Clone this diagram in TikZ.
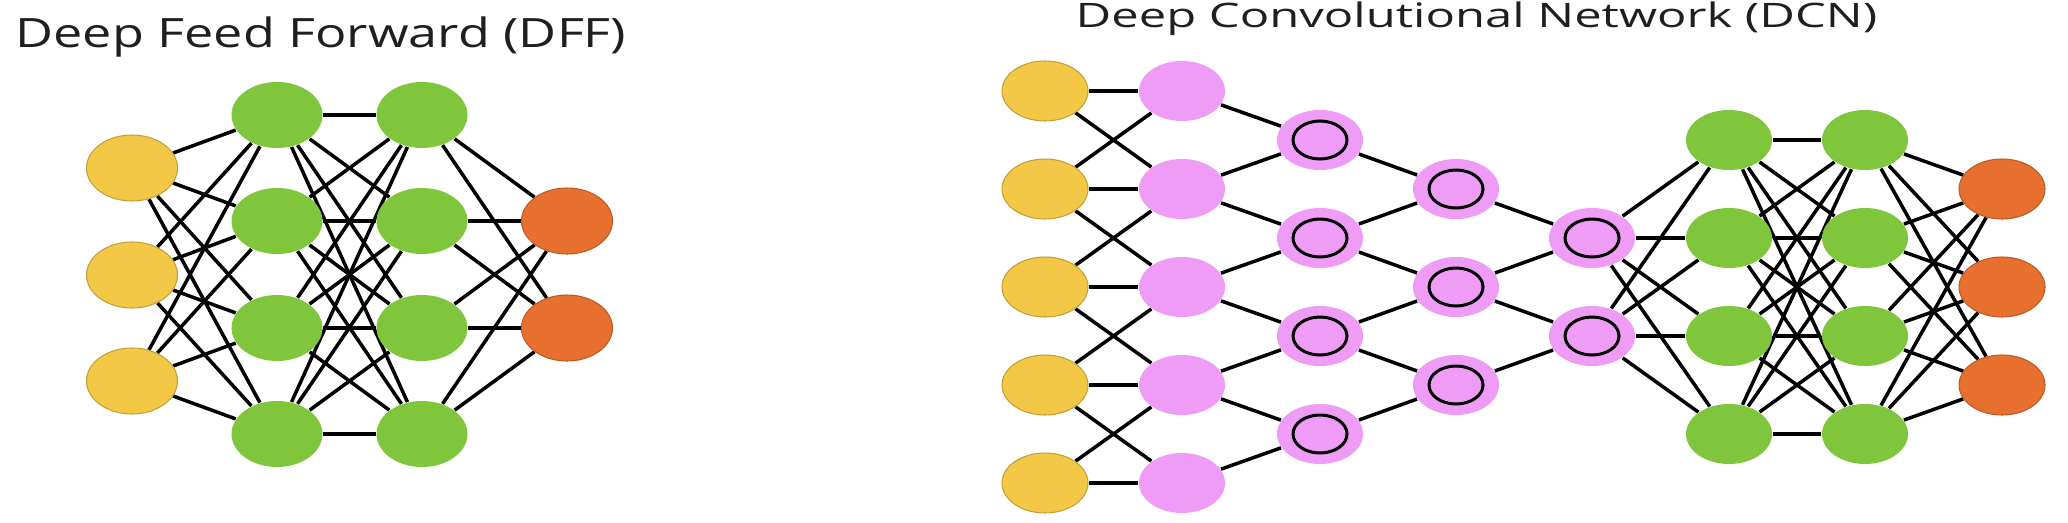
\documentclass[tikz,border=0pt]{standalone}
\usepackage{fontspec}
\setmainfont{Open Sans}
\usetikzlibrary{shapes.geometric,backgrounds}
\definecolor{inyellow}{HTML}{F3C846}
\definecolor{hidgreen}{HTML}{7FC63C}
\definecolor{outorange}{HTML}{E8702E}
\definecolor{convpink}{HTML}{EE9CF5}

\begin{document}
\begin{tikzpicture}[x=0.1mm,y=-0.1mm,
  big/.style={ellipse,inner sep=0pt,minimum width=9.1mm,minimum height=6.6mm},
  small/.style={ellipse,inner sep=0pt,minimum width=8.6mm,minimum height=6mm},
  inp/.style={fill=inyellow,draw=inyellow!80!black,line width=0.3pt},
  hid/.style={fill=hidgreen},
  outp/.style={fill=outorange,draw=outorange!80!black,line width=0.3pt},
  conv/.style={fill=convpink},
  pool/.style={fill=convpink,path picture={\draw[line width=0.3mm] (path picture bounding box.center) ellipse (2.7mm and 1.9mm);}},
  link/.style={line width=0.35mm},
  heading/.style={anchor=base west,inner sep=0pt,text=black!88}]
\useasboundingbox (0,0) rectangle (2068,522);

% Deep Feed Forward
\node[heading,font=\fontsize{11.5}{14}\selectfont] (dff) at (15,47) {\scalebox{1.29}[1]{Deep Feed Forward (DFF)}};
\foreach \y [count=\i] in {168,275,381} \node[big,inp] (in\i) at (132,\y) {};
\foreach \y [count=\i] in {115,221,328,434} {
  \node[big,hid] (ha\i) at (277,\y) {};
  \node[big,hid] (hb\i) at (422,\y) {};
}
\foreach \y [count=\i] in {221,328} \node[big,outp] (out\i) at (567,\y) {};

\begin{scope}[on background layer]
\foreach \i in {1,...,3} \foreach \j in {1,...,4} \draw[link] (in\i) -- (ha\j);
\foreach \i in {1,...,4} \foreach \j in {1,...,4} \draw[link] (ha\i) -- (hb\j);
\foreach \i in {1,...,4} \foreach \j in {1,2} \draw[link] (hb\i) -- (out\j);
\end{scope}

% Deep Convolutional Network
\node[heading,font=\fontsize{9.6}{12}\selectfont] (dcn) at (1075,27) {\scalebox{1.45}[1]{Deep Convolutional Network (DCN)}};
\foreach \y [count=\i] in {91,189,287,385,483} {
  \node[small,inp] (x\i) at (1045,\y) {};
  \node[small,conv] (k\i) at (1182,\y) {};
}
\foreach \y [count=\i] in {140,238,336,434} {
  \node[small,pool] (p\i) at (1320,\y) {};
  \node[small,hid] (s\i) at (1729,\y) {};
  \node[small,hid] (t\i) at (1865,\y) {};
}
\foreach \y [count=\i] in {189,287,385} {
  \node[small,pool] (q\i) at (1456,\y) {};
  \node[small,outp] (y\i) at (2002,\y) {};
}
\foreach \y [count=\i] in {238,336} \node[small,pool] (r\i) at (1592,\y) {};

\begin{scope}[on background layer]
\foreach \i in {1,...,5} \draw[link] (x\i) -- (k\i);
\foreach \i [count=\j from 2] in {1,...,4} \draw[link] (x\i) -- (k\j) (x\j) -- (k\i);
\foreach \i [count=\j from 2] in {1,...,4} \draw[link] (k\i) -- (p\i) (k\j) -- (p\i);
\foreach \i [count=\j from 2] in {1,2,3} \draw[link] (p\i) -- (q\i) (p\j) -- (q\i);
\foreach \i [count=\j from 2] in {1,2} \draw[link] (q\i) -- (r\i) (q\j) -- (r\i);
\foreach \i in {1,2} \foreach \j in {1,...,4} \draw[link] (r\i) -- (s\j);
\foreach \i in {1,...,4} \foreach \j in {1,...,4} \draw[link] (s\i) -- (t\j);
\foreach \i in {1,...,4} \foreach \j in {1,2,3} \draw[link] (t\i) -- (y\j);
\end{scope}
\end{tikzpicture}
\end{document}
